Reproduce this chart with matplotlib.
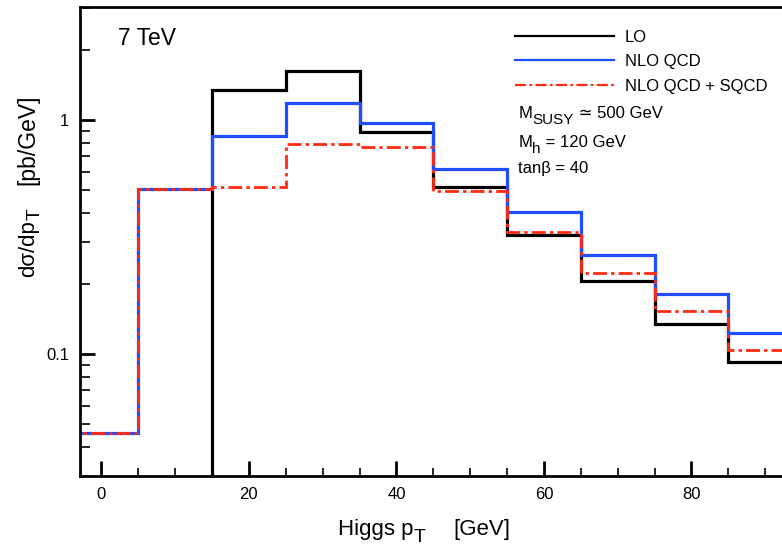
import numpy as np
import matplotlib.pyplot as plt
from matplotlib.lines import Line2D

plt.rcParams['font.family'] = ['Liberation Sans', 'DejaVu Sans']

# Higgs pT bins [GeV] and d(sigma)/dpT [pb/GeV]
pt_edges = [-5, 5, 15, 25, 35, 45, 55, 65, 75, 85, 95]
lo = [0, 0, 1.34, 1.62, 0.886, 0.519, 0.321, 0.205, 0.135, 0.092]
nlo_qcd = [0.0458, 0.509, 0.857, 1.18, 0.974, 0.616, 0.404, 0.266, 0.180, 0.123]
nlo_sqcd = [0.0458, 0.509, 0.519, 0.790, 0.769, 0.497, 0.331, 0.221, 0.153, 0.104]

labels = ['LO', 'NLO QCD', 'NLO QCD + SQCD']
colors = ['black', '#1f4dff', '#ff2a0f']
dashdot = (0, (5, 1.5, 1.2, 1.5))

W, H = 782, 548
fig = plt.figure(figsize=(W / 100, H / 100), dpi=100)
ax = fig.add_axes([80 / W, 1 - 475.7 / H, 759 / W, 468.7 / H])
ax.set_yscale('log', nonpositive='clip')

ax.stairs(lo, pt_edges, baseline=None, color=colors[0], lw=2.3)
ax.stairs(nlo_qcd, pt_edges, baseline=None, color=colors[1], lw=2.3)
ax.stairs(nlo_sqcd, pt_edges, baseline=None, color=colors[2], lw=2.0, linestyle=dashdot)

ax.set_xlim(-2.9, 100)
ax.set_ylim(0.0302, 3.04)

for s in ax.spines.values():
    s.set_linewidth(2.0)

ax.set_xticks([0, 20, 40, 60, 80])
ax.set_xticks(np.arange(0, 100, 5), minor=True)
ax.set_yticks([0.1, 1])
ax.set_yticklabels(['0.1', '1'])
ax.tick_params(which='both', direction='in', top=False, right=False, labelsize=12, pad=8)
ax.tick_params(which='major', length=11, width=2)
ax.tick_params(which='minor', length=6, width=1.2)
ax.tick_params(axis='y', which='minor', length=7)
ax.yaxis.set_minor_formatter(plt.NullFormatter())

renderer = fig.canvas.get_renderer()


def text_run(x, y, pieces, rotation=0):
    # pieces: (text, fontsize, drop in px); x, y in pixels from top-left
    for s, size, drop in pieces:
        if rotation == 0:
            t = fig.text(x / W, 1 - (y + drop) / H, s, fontsize=size,
                         ha='left', va='baseline')
            x += t.get_window_extent(renderer).width
        else:
            t = fig.text((x + drop) / W, 1 - y / H, s, fontsize=size, rotation=90,
                         rotation_mode='anchor', ha='left', va='baseline')
            y -= t.get_window_extent(renderer).height


# axis labels (full-size lowered subscripts as in the original)
text_run(338, 535, [('Higgs p', 16, 0), ('T', 14, 6.5)])
text_run(453, 535, [('[GeV]', 16, 0)])
text_run(34.5, 277, [('dσ/dp', 16, 0), ('T', 14, 5)], rotation=90)
text_run(34.5, 185, [('[pb/GeV]', 16.5, 0)], rotation=90)

fig.text(117.5 / W, 1 - 44.5 / H, '7 TeV', fontsize=16.5)

handles = [Line2D([], [], color=colors[0], lw=1.6),
           Line2D([], [], color=colors[1], lw=1.6),
           Line2D([], [], color=colors[2], lw=1.6, linestyle=dashdot)]
ax.legend(handles, labels, loc='upper left', bbox_to_anchor=(515 / W, 1 - 29.5 / H),
          bbox_transform=fig.transFigure, frameon=False, fontsize=12,
          handlelength=5.94, handletextpad=0.64, labelspacing=0.57, borderpad=0,
          borderaxespad=0)

text_run(518.3, 118.3, [('M', 12, 0), ('SUSY', 11, 6), (' ≃ 500 GeV', 12, 0)])
text_run(518.3, 146.7, [('M', 12, 0), ('h', 11, 6.5), (' = 120 GeV', 12, 0)])
text_run(518.3, 173.3, [('tanβ = 40', 12, 0)])

fig.savefig('out.png', dpi=100)
